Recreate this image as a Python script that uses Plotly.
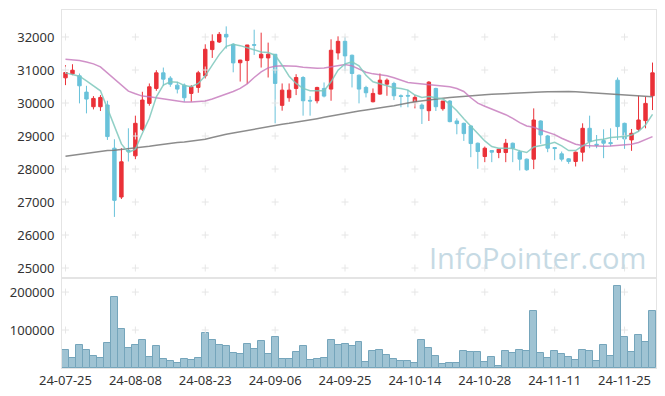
import plotly.graph_objects as go
import pandas as pd

# ---- categories: KRX trading days ----
holidays = ["2024-08-15", "2024-09-16", "2024-09-17", "2024-09-18",
            "2024-10-01", "2024-10-03", "2024-10-09"]
dates = [d.strftime("%y-%m-%d") for d in
         pd.bdate_range("2024-07-25", "2024-11-29", freq="C", holidays=holidays)]

# ---- OHLC ----
opens = [30763, 30883, 30823, 30330, 29887, 29887, 29938, 28630, 27151, 28560,
         28398, 29203, 29988, 30441, 30914, 30753, 30541, 30541, 30290, 30471,
         30823, 31618, 31849, 32080, 31779, 31220, 31286, 31770, 31366, 31366,
         31477, 29928, 30159, 30441, 30773, 30080, 30068, 30441, 30421, 31517,
         31869, 31447, 30843, 30471, 30038, 30270, 30571, 30592, 30220, 30230,
         30038, 29938, 29767, 30441, 29827, 30058, 29455, 29384, 29304, 28781,
         28378, 28560, 28499, 28499, 28781, 28519, 28298, 28298, 29455, 29002,
         28650, 28459, 28308, 28228, 28509, 29233, 28750, 28861, 28800, 30692,
         29384, 28881, 29203, 29465, 30219]
highs = [31145, 31175, 30893, 30521, 30209, 30240, 30068, 28901, 28630, 29234,
         29616, 30340, 30592, 30994, 31074, 30813, 30642, 30592, 30541, 30974,
         31779, 32080, 32151, 32322, 31810, 31310, 31760, 32221, 32131, 31829,
         31480, 30592, 30592, 30873, 30813, 30209, 30491, 30622, 31930, 32020,
         32000, 31467, 30863, 30521, 30441, 30893, 30743, 30642, 30260, 30400,
         30240, 29988, 30662, 30461, 30060, 30089, 29535, 29404, 29324, 28801,
         28680, 28570, 28600, 28911, 28801, 28580, 28318, 29837, 29475, 29032,
         28660, 28529, 28328, 28529, 29384, 29616, 29030, 29203, 29233, 30773,
         29404, 29213, 30219, 30189, 31225]
lows = [30541, 30843, 29988, 29686, 29806, 29757, 28881, 26548, 27090, 28228,
        28298, 29150, 29918, 30370, 30521, 30491, 30290, 30038, 30038, 30310,
        30743, 31366, 31819, 31648, 30930, 30650, 30580, 31457, 31074, 30773,
        29384, 29767, 30038, 30240, 29616, 29616, 29988, 30169, 30068, 31316,
        30974, 30471, 29988, 30169, 30018, 30250, 30219, 30089, 29870, 29870,
        29837, 29364, 29455, 29757, 29767, 29415, 29052, 28851, 28358, 28006,
        28207, 28207, 28328, 28207, 28207, 27956, 27946, 27996, 28761, 28509,
        28268, 28228, 28157, 28076, 28228, 28630, 28630, 28328, 28690, 28881,
        28610, 28550, 29133, 29233, 29786]
closes = [30924, 30994, 30521, 30119, 30139, 30169, 28982, 27050, 28218, 28540,
          29384, 30089, 30491, 30914, 30722, 30571, 30421, 30159, 30491, 30914,
          31628, 31869, 32080, 32000, 31215, 31300, 31758, 31750, 31477, 31477,
          30592, 30390, 30390, 30773, 30068, 30060, 30471, 30209, 31598, 31869,
          31427, 30893, 30421, 30310, 30290, 30692, 30692, 30219, 30200, 30210,
          30169, 29827, 30632, 29887, 30058, 29435, 29374, 29072, 28771, 28529,
          28630, 28510, 28600, 28781, 28630, 28298, 27976, 29485, 29032, 28630,
          28620, 28298, 28228, 28509, 29233, 28831, 28720, 28781, 28770, 29284,
          28911, 29082, 29485, 29988, 30914]

# ---- moving averages ----
ma5 = [30913, 30873, 30813, 30672, 30511, 30370, 29837, 29304, 28761, 28500,
       28600, 29082, 29535, 30189, 30541, 30642, 30632, 30531, 30491, 30592,
       30823, 31145, 31467, 31718, 31779, 31738, 31678, 31598, 31547, 31527,
       31447, 31145, 30813, 30592, 30441, 30370, 30375, 30370, 30642, 30994,
       31185, 31245, 31125, 30843, 30642, 30571, 30521, 30461, 30441, 30390,
       30240, 30169, 30199, 30159, 30119, 29968, 29767, 29525, 29304, 29062,
       28850, 28680, 28630, 28630, 28620, 28549, 28500, 28670, 28700, 28751,
       28811, 28700, 28560, 28560, 28700, 28821, 28881, 28901, 28952, 28962,
       28982, 29032, 29143, 29334, 29656]
ma20 = [31326, 31316, 31286, 31245, 31185, 31095, 30913, 30712, 30521, 30360,
        30280, 30209, 30189, 30159, 30119, 30078, 30048, 30028, 30028, 30038,
        30058, 30119, 30189, 30270, 30350, 30441, 30582, 30773, 30944, 31064,
        31115, 31125, 31125, 31115, 31085, 31064, 31050, 31064, 31105, 31145,
        31165, 31125, 31034, 30934, 30883, 30853, 30823, 30763, 30682, 30622,
        30602, 30582, 30561, 30541, 30521, 30491, 30441, 30350, 30159, 29998,
        29900, 29817, 29737, 29646, 29535, 29405, 29304, 29264, 29183, 29113,
        29042, 28932, 28830, 28751, 28710, 28700, 28690, 28690, 28700, 28710,
        28720, 28751, 28801, 28881, 28982]
ma120 = [28388, 28418, 28459, 28489, 28519, 28539, 28559, 28570, 28590, 28610,
         28630, 28660, 28690, 28720, 28751, 28771, 28801, 28821, 28841, 28871,
         28901, 28952, 29012, 29052, 29093, 29133, 29173, 29203, 29244, 29284,
         29314, 29354, 29384, 29425, 29465, 29495, 29525, 29565, 29606, 29646,
         29686, 29726, 29757, 29787, 29827, 29857, 29887, 29918, 29948, 30000,
         30040, 30070, 30100, 30125, 30145, 30165, 30185, 30205, 30220, 30235,
         30250, 30262, 30275, 30287, 30298, 30308, 30318, 30327, 30335, 30342,
         30348, 30352, 30350, 30340, 30325, 30310, 30295, 30280, 30265, 30250,
         30235, 30222, 30210, 30200, 30190]

# ---- volume ----
volumes = [47000, 26000, 61000, 47000, 31000, 26000, 66000, 187000, 104000, 53000,
           61000, 74000, 29000, 58000, 23000, 19000, 12500, 23000, 20500, 26000,
           93000, 74000, 61000, 58000, 39000, 37000, 63000, 50000, 71000, 37000,
           82000, 23000, 23000, 42000, 58000, 20500, 23000, 26000, 74000, 61000,
           63000, 58000, 69000, 15000, 45000, 47000, 34000, 23000, 18000, 18000,
           12500, 74000, 53000, 31000, 10000, 12500, 12500, 45000, 42000, 42000,
           15000, 29000, 4500, 45000, 39000, 47000, 45000, 149000, 39000, 26000,
           45000, 37000, 29000, 20500, 47000, 45000, 18000, 61000, 31000, 216000,
           82000, 42000, 87500, 69000, 149000]

# ---- tick labels ----
price_ticks = [25000, 26000, 27000, 28000, 29000, 30000, 31000, 32000]
volume_ticks = [100000, 200000]
x_ticks = dates[::10]

UP = "#ea3138"
DOWN = "#69c2da"
FRAME = "#e4e4e4"
CROSS = "#e6e6e6"
split = 90 / 358

fig = go.Figure()

# grid crosses at tick intersections
cx = [x for x in x_ticks for _ in price_ticks]
cy = [y for _ in x_ticks for y in price_ticks]
fig.add_trace(go.Scatter(x=cx, y=cy, mode="markers", xaxis="x", yaxis="y",
                         marker=dict(symbol="cross-thin", size=5,
                                     line=dict(width=1, color=CROSS)),
                         hoverinfo="skip", showlegend=False))
cx2 = [x for x in x_ticks for _ in volume_ticks]
cy2 = [y for _ in x_ticks for y in volume_ticks]
fig.add_trace(go.Scatter(x=cx2, y=cy2, mode="markers", xaxis="x2", yaxis="y2",
                         marker=dict(symbol="cross-thin", size=5,
                                     line=dict(width=1, color=CROSS)),
                         hoverinfo="skip", showlegend=False))

fig.add_trace(go.Candlestick(
    x=dates, open=opens, high=highs, low=lows, close=closes,
    xaxis="x", yaxis="y",
    increasing=dict(line=dict(color=UP, width=1), fillcolor=UP),
    decreasing=dict(line=dict(color=DOWN, width=1), fillcolor=DOWN),
    whiskerwidth=0, showlegend=False))

fig.add_trace(go.Scatter(x=dates, y=ma120, mode="lines", xaxis="x", yaxis="y",
                         line=dict(color="rgba(120,120,120,0.85)", width=1.5),
                         showlegend=False))
fig.add_trace(go.Scatter(x=dates, y=ma20, mode="lines", xaxis="x", yaxis="y",
                         line=dict(color="rgba(196,118,186,0.8)", width=1.5),
                         showlegend=False))
fig.add_trace(go.Scatter(x=dates, y=ma5, mode="lines", xaxis="x", yaxis="y",
                         line=dict(color="rgba(126,200,188,0.85)", width=1.5),
                         showlegend=False))

fig.add_trace(go.Bar(x=dates, y=volumes, xaxis="x2", yaxis="y2",
                     marker=dict(color="#9fc3d3", line=dict(color="#75a5bb", width=1)),
                     showlegend=False))

tickfont = dict(family="Noto Sans, Open Sans, sans-serif", size=13, color="#333333")

common_x = dict(domain=[0, 1], type="category", categoryorder="array",
                categoryarray=dates, range=[-0.5, len(dates) - 0.5],
                showgrid=False, zeroline=False, showline=True, mirror=True,
                linecolor=FRAME, linewidth=1, ticks="", automargin=False,
                fixedrange=True)
common_y = dict(showgrid=False, zeroline=False, showline=True, mirror=True,
                linecolor=FRAME, linewidth=1, tickfont=tickfont, ticks="",
                ticklabelstandoff=4, automargin=False, fixedrange=True)

fig.update_layout(
    width=665, height=396, autosize=False,
    margin=dict(l=62, r=9, t=10, b=28, autoexpand=False),
    paper_bgcolor="white", plot_bgcolor="white",
    showlegend=False, bargap=0, boxgap=0.3,
    xaxis=dict(anchor="y", showticklabels=False,
               rangeslider=dict(visible=False), **common_x),
    yaxis=dict(domain=[split, 1], anchor="x", range=[24697, 32818],
               tickvals=price_ticks, ticktext=[str(v) for v in price_ticks],
               **common_y),
    xaxis2=dict(anchor="y2", tickvals=x_ticks, ticktext=x_ticks, tickangle=0,
                tickfont=tickfont, **common_x),
    yaxis2=dict(domain=[0, split], anchor="x2", range=[0, 237000],
                tickvals=volume_ticks, ticktext=[str(v) for v in volume_ticks],
                **common_y),
    annotations=[dict(text="InfoPointer.com", xref="paper", yref="paper",
                      x=0.987, y=(368 - 257) / 358, xanchor="right", yanchor="middle",
                      showarrow=False,
                      font=dict(family="Open Sans, Noto Sans, sans-serif", size=29,
                                color="#c6dae4"))],
)

fig.write_html("out.html", config={"displayModeBar": False},
               post_script="document.body.style.margin='0';document.body.style.padding='0';")
